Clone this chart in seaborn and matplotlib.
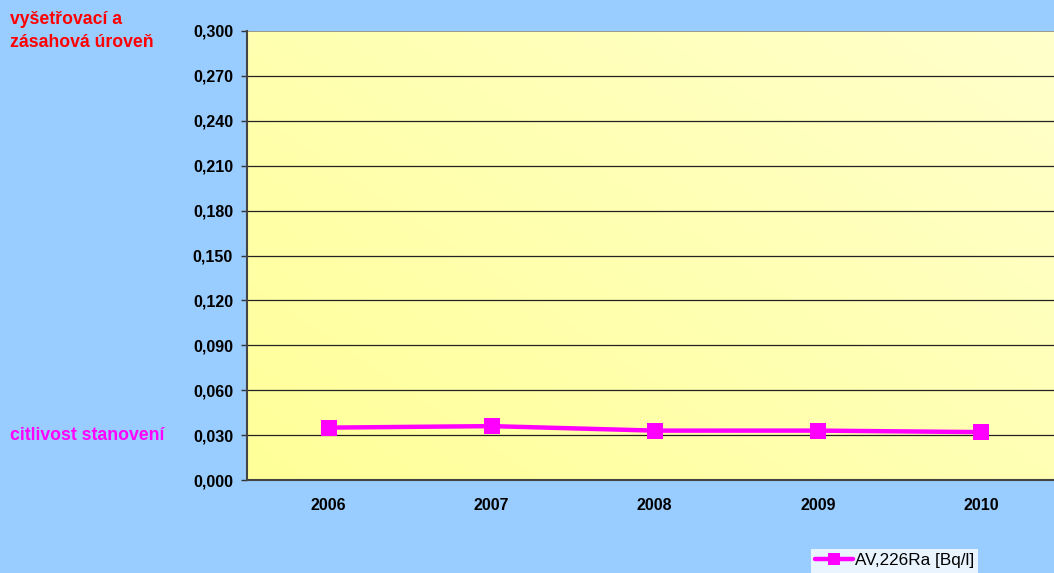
import numpy as np
import pandas as pd
import matplotlib
matplotlib.use("Agg")
import matplotlib.pyplot as plt
from matplotlib.colors import LinearSegmentedColormap
import seaborn as sns

years = ["2006", "2007", "2008", "2009", "2010"]
ra226 = [0.035, 0.036, 0.033, 0.033, 0.032]
y_ticks = [0.000, 0.030, 0.060, 0.090, 0.120, 0.150, 0.180, 0.210, 0.240, 0.270, 0.300]
series_name = "AV,226Ra [Bq/l]"

df = pd.DataFrame({"rok": years, "hodnota": ra226})

sns.set_theme(style="white")
plt.rcParams["font.family"] = ["Liberation Sans", "DejaVu Sans"]

BG = "#99CCFF"
MAGENTA = "#FF00FF"

fig = plt.figure(figsize=(10.54, 5.73), dpi=100, facecolor=BG)
ax = fig.add_axes([0.2343, 0.1623, 0.7737, 0.7836])

# soft yellow gradient fill of the plot area
grad = LinearSegmentedColormap.from_list("yel", ["#FFFF99", "#FFFFCC"])
gx, gy = np.meshgrid(np.linspace(0, 1, 200), np.linspace(0, 1, 200))
ax.imshow(0.55 * gx + 0.45 * gy, cmap=grad, origin="lower", aspect="auto",
          extent=[-0.5, 4.5, 0, 0.3], zorder=0, interpolation="bilinear")

sns.lineplot(data=df, x="rok", y="hodnota", ax=ax, color=MAGENTA, linewidth=3.2,
             marker="s", markersize=11.5, markeredgewidth=0, label=series_name,
             zorder=3)

ax.set_xlim(-0.5, 4.5)
ax.set_ylim(0, 0.3)
ax.set_yticks(y_ticks)
ax.set_yticklabels([f"{v:.3f}".replace(".", ",") for v in y_ticks],
                   fontsize=11.5, fontweight="bold", color="black")
ax.set_xticks(range(len(years)))
ax.set_xticklabels(years, fontsize=11.5, fontweight="bold", color="black")
ax.set_xticks(np.arange(0.5, len(years), 1.0), minor=True)
ax.tick_params(axis="x", which="major", length=0, pad=13)
ax.tick_params(axis="x", which="minor", length=5, width=1, color="#333333")
ax.tick_params(axis="y", which="major", length=4.5, width=1, color="#333333",
               left=True, pad=5.5)
ax.set_xlabel("")
ax.set_ylabel("")

for v in y_ticks[1:-1]:
    ax.axhline(v, color="#222222", linewidth=0.9, zorder=1)
ax.axhline(0.3, color="#888888", linewidth=1.2, zorder=1)

for side in ["top", "right"]:
    ax.spines[side].set_visible(False)
ax.spines["left"].set_color("#444444")
ax.spines["left"].set_linewidth(1.5)
ax.spines["bottom"].set_color("#444444")
ax.spines["bottom"].set_linewidth(1.5)

ax.get_legend().remove()
handles, labels = ax.get_legend_handles_labels()
leg = fig.legend(handles, labels, loc="upper left",
                 bbox_to_anchor=(811 / 1054, 1 - 549 / 573),
                 frameon=True, fancybox=False, fontsize=12.3, handlelength=2.2,
                 handletextpad=0.1, borderpad=0.25, borderaxespad=0,
                 markerscale=0.7, labelcolor="black")
leg.get_frame().set_facecolor("white")
leg.get_frame().set_edgecolor("white")
leg.get_frame().set_linewidth(0)

fig.text(10 / 1054, 1 - 31 / 573, "vyšetřovací a\nzásahová úroveň", color="#FF0000",
         fontsize=12.7, fontweight="bold", va="center", ha="left", linespacing=1.5)
fig.text(10 / 1054, 1 - 435 / 573, "citlivost stanovení", color=MAGENTA,
         fontsize=12.7, fontweight="bold", va="center", ha="left")

fig.savefig("out.png", dpi=100, facecolor=BG)
